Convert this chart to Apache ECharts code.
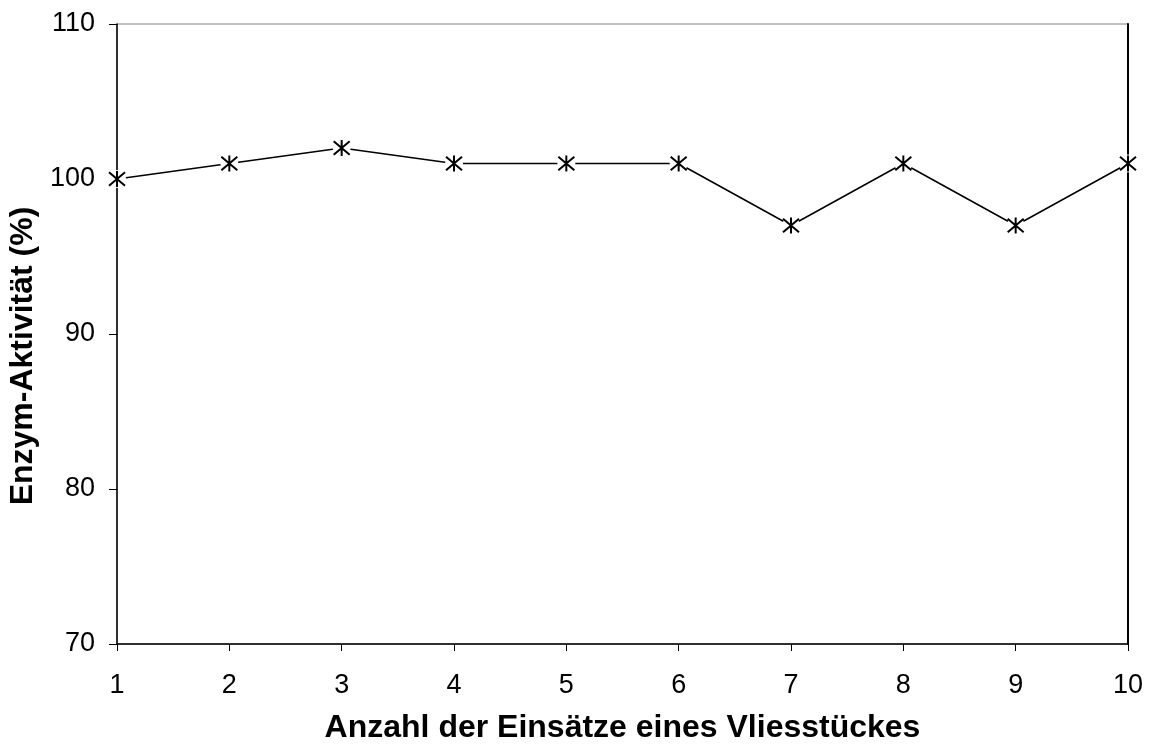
<!DOCTYPE html>
<html>
<head>
<meta charset="utf-8">
<script src="https://cdn.jsdelivr.net/npm/echarts@6/dist/echarts.min.js"></script>
<style>
  html, body { margin: 0; padding: 0; background: #fff; }
  #main { width: 1149px; height: 745px; }
</style>
</head>
<body>
<div id="main"></div>
<script>
  // Anzahl der Einsätze vs. Enzym-Aktivität
  var einsaetze = [1, 2, 3, 4, 5, 6, 7, 8, 9, 10];
  var aktivitaet = [100, 101, 102, 101, 101, 101, 97, 101, 97, 101];

  var points = einsaetze.map(function (x, i) { return [x, aktivitaet[i]]; });
  var font = 'Liberation Sans, Arial, sans-serif';
  var asterisk = 'path://M0,0L10,10M10,0L0,10M5,-1L5,11';

  var chart = echarts.init(document.getElementById('main'));
  chart.setOption({
    animation: false,
    backgroundColor: '#fff',
    grid: {
      left: 117, right: 21, top: 24, bottom: 101,
      outerBoundsMode: 'none',
      show: true, borderColor: '#808080', borderWidth: 1
    },
    xAxis: {
      type: 'value',
      min: 1, max: 10, interval: 1,
      name: 'Anzahl der Einsätze eines Vliesstückes',
      nameLocation: 'middle',
      nameGap: 68,
      nameTextStyle: { fontFamily: font, fontSize: 32, lineHeight: 32, fontWeight: 'bold', color: '#000' },
      axisLine: { lineStyle: { color: '#000', width: 1.5 } },
      axisTick: { show: true, inside: false, length: 7, lineStyle: { color: '#000' } },
      axisLabel: { fontFamily: font, fontSize: 27, color: '#000', margin: 28 },
      splitLine: { show: false }
    },
    yAxis: [{
      type: 'value',
      min: 70, max: 110, interval: 10,
      name: 'Enzym-Aktivität (%)',
      nameLocation: 'middle',
      nameGap: 72,
      nameTextStyle: { fontFamily: font, fontSize: 32, fontWeight: 'bold', color: '#000', padding: [0, 44, 0, 0] },
      axisLine: { show: true, lineStyle: { color: '#000', width: 1.5 } },
      axisTick: { show: true, inside: false, length: 8, lineStyle: { color: '#000' } },
      axisLabel: { fontFamily: font, fontSize: 27, color: '#000', margin: 22 },
      splitLine: { show: false }
    }, {
      type: 'value',
      position: 'right',
      min: 70, max: 110, interval: 10,
      axisLine: { show: true, lineStyle: { color: '#000', width: 2 } },
      axisTick: { show: false },
      axisLabel: { show: false },
      splitLine: { show: false }
    }],
    series: [{
      type: 'line',
      data: points,
      showSymbol: false,
      lineStyle: { color: '#000', width: 1.5 },
      z: 2
    }, {
      type: 'scatter',
      data: points,
      symbol: 'circle',
      symbolSize: 18,
      itemStyle: { color: '#fff', opacity: 1 },
      z: 3
    }, {
      type: 'scatter',
      data: points,
      symbol: asterisk,
      symbolSize: 16,
      itemStyle: { color: 'none', borderColor: '#000', borderWidth: 2, opacity: 1 },
      z: 4
    }]
  });
</script>
</body>
</html>
